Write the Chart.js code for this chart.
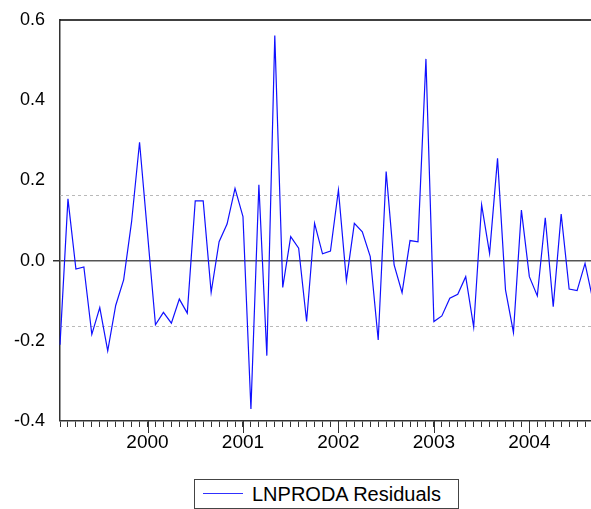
<!DOCTYPE html>
<html lang="en">

<head>
    <meta charset="UTF-8">
    <title>LNPRODA Residuals</title>
    <script src="https://cdn.jsdelivr.net/npm/chart.js"></script>
    <style>
        * {
            margin: 0;
            padding: 0;
            box-sizing: border-box;
        }

        body {
            background: #fff;
            width: 591px;
            height: 509px;
            overflow: hidden;
            font-family: 'Liberation Sans', Arial, sans-serif;
        }

        .wrap {
            position: relative;
            width: 591px;
            height: 509px;
            overflow: hidden;
        }

        #residChart {
            position: absolute;
            left: 0;
            top: 0;
        }

        .legend-box {
            position: absolute;
            left: 194px;
            top: 479px;
            width: 265px;
            height: 30px;
            border: 1px solid #444;
            background: #fff;
        }

        .legend-box .swatch {
            position: absolute;
            left: 8px;
            top: 13px;
            width: 40px;
            height: 1px;
            background: #3030ff;
        }

        .legend-box .label {
            position: absolute;
            left: 57px;
            top: 3px;
            font-size: 20px;
            color: #000;
            white-space: nowrap;
        }
    </style>
</head>

<body>
    <div class="wrap">
        <canvas id="residChart" width="597" height="451"></canvas>
        <div class="legend-box">
            <span class="swatch"></span>
            <span class="label">LNPRODA Residuals</span>
        </div>
    </div>

    <script>
        // monthly observations 1999M02 .. 2004M09
        const months = [
            '1999M02', '1999M03', '1999M04', '1999M05', '1999M06', '1999M07', '1999M08', '1999M09', '1999M10', '1999M11', '1999M12',
            '2000M01', '2000M02', '2000M03', '2000M04', '2000M05', '2000M06', '2000M07', '2000M08', '2000M09', '2000M10', '2000M11', '2000M12',
            '2001M01', '2001M02', '2001M03', '2001M04', '2001M05', '2001M06', '2001M07', '2001M08', '2001M09', '2001M10', '2001M11', '2001M12',
            '2002M01', '2002M02', '2002M03', '2002M04', '2002M05', '2002M06', '2002M07', '2002M08', '2002M09', '2002M10', '2002M11', '2002M12',
            '2003M01', '2003M02', '2003M03', '2003M04', '2003M05', '2003M06', '2003M07', '2003M08', '2003M09', '2003M10', '2003M11', '2003M12',
            '2004M01', '2004M02', '2004M03', '2004M04', '2004M05', '2004M06', '2004M07', '2004M08', '2004M09'
        ];

        const residuals = [
            -0.210, 0.154, -0.021, -0.016, -0.184, -0.117, -0.225, -0.112, -0.048, 0.097, 0.295,
            0.068, -0.160, -0.129, -0.156, -0.096, -0.131, 0.149, 0.149, -0.079, 0.047, 0.091, 0.180,
            0.110, -0.370, 0.189, -0.237, 0.561, -0.067, 0.060, 0.031, -0.152, 0.093, 0.017, 0.024,
            0.176, -0.050, 0.093, 0.072, 0.010, -0.198, 0.222, -0.011, -0.080, 0.050, 0.047, 0.503,
            -0.152, -0.138, -0.094, -0.084, -0.040, -0.166, 0.139, 0.018, 0.255, -0.073, -0.179, 0.126,
            -0.040, -0.088, 0.107, -0.115, 0.116, -0.071, -0.075, -0.007, -0.100
        ];

        // +/- one standard error band
        const bandLevels = [0.163, -0.163];
        const yTicks = [-0.4, -0.2, 0.0, 0.2, 0.4, 0.6];

        const isJanuary = (label) => label.endsWith('M01');

        // dotted bands, top frame line and the longer year ticks
        const decorations = {
            id: 'decorations',
            beforeDatasetsDraw(chart) {
                const { ctx, chartArea: a, scales: { y } } = chart;
                ctx.save();
                ctx.strokeStyle = '#b9b9b9';
                ctx.lineWidth = 1;
                ctx.setLineDash([3, 3]);
                bandLevels.forEach(v => {
                    const py = Math.round(y.getPixelForValue(v)) + 0.5;
                    ctx.beginPath();
                    ctx.moveTo(a.left, py);
                    ctx.lineTo(a.right, py);
                    ctx.stroke();
                });
                ctx.restore();
            },
            afterDraw(chart) {
                const { ctx, chartArea: a, scales: { x } } = chart;
                ctx.save();
                ctx.strokeStyle = '#000';
                ctx.lineWidth = 1.5;
                ctx.beginPath();
                ctx.moveTo(a.left, a.top);
                ctx.lineTo(a.right, a.top);
                ctx.stroke();

                ctx.strokeStyle = '#333';
                ctx.lineWidth = 1;
                months.forEach((m, i) => {
                    if (!isJanuary(m)) return;
                    const px = Math.round(x.getPixelForTick(i)) + 0.5;
                    ctx.beginPath();
                    ctx.moveTo(px, a.bottom);
                    ctx.lineTo(px, a.bottom + 12);
                    ctx.stroke();
                });
                ctx.restore();
            }
        };

        const ctx = document.getElementById('residChart').getContext('2d');
        new Chart(ctx, {
            type: 'line',
            data: {
                labels: months,
                datasets: [{
                    label: 'LNPRODA Residuals',
                    data: residuals,
                    borderColor: '#1010ff',
                    borderWidth: 1.2,
                    pointRadius: 0,
                    tension: 0,
                    fill: false
                }]
            },
            options: {
                responsive: false,
                animation: false,
                layout: {
                    padding: { top: 20, right: 0, bottom: 0, left: 0 }
                },
                plugins: {
                    legend: { display: false },
                    tooltip: { enabled: false }
                },
                scales: {
                    x: {
                        type: 'category',
                        offset: false,
                        border: { color: '#333', width: 1.5 },
                        grid: {
                            drawOnChartArea: false,
                            tickLength: 6,
                            tickColor: '#333'
                        },
                        ticks: {
                            autoSkip: false,
                            maxRotation: 0,
                            padding: 4,
                            color: '#000',
                            font: { family: "'Liberation Sans', Arial, sans-serif", size: 19 },
                            callback: function (val, i) {
                                const m = months[i];
                                return isJanuary(m) ? m.slice(0, 4) : '';
                            }
                        },
                        afterFit: (scale) => { scale.height = 30; }
                    },
                    y: {
                        min: -0.4,
                        max: 0.6,
                        border: { color: '#333', width: 1.5 },
                        grid: {
                            drawOnChartArea: true,
                            tickLength: 7,
                            tickColor: '#333',
                            color: (c) => (c.tick && c.tick.value === 0 ? '#555' : 'rgba(0,0,0,0)'),
                            lineWidth: (c) => (c.tick && c.tick.value === 0 ? 1.5 : 0)
                        },
                        afterBuildTicks: (scale) => {
                            scale.ticks = yTicks.map(v => ({ value: v }));
                        },
                        ticks: {
                            padding: 8,
                            color: '#000',
                            font: { family: "'Liberation Sans', Arial, sans-serif", size: 18 },
                            callback: (v) => v.toFixed(1)
                        },
                        afterFit: (scale) => { scale.width = 60; }
                    }
                }
            },
            plugins: [decorations]
        });
    </script>
</body>

</html>
